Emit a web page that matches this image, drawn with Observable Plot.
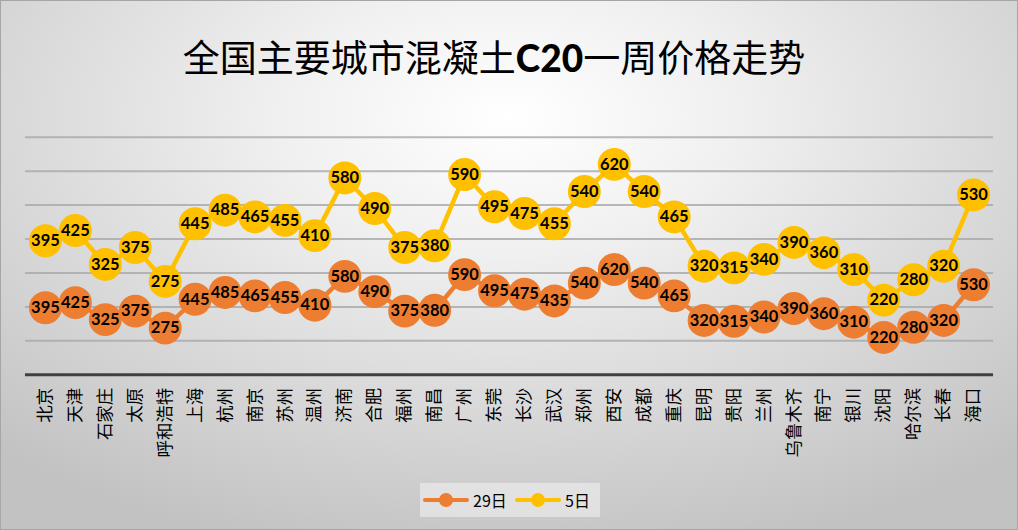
<!DOCTYPE html>
<html>
<head>
<meta charset="utf-8">
<script src="https://cdn.jsdelivr.net/npm/d3@7"></script>
<script src="https://cdn.jsdelivr.net/npm/@observablehq/plot@0.6"></script>
<style>
  html, body { margin: 0; padding: 0; }
  #wrap {
    position: relative; width: 1018px; height: 530px; box-sizing: border-box;
    border: 1px solid #a6a6a6;
    background: radial-gradient(ellipse 75% 85% at 50% 22%, #ffffff 0%, #f0f0f0 30%, #d9d9d9 65%, #c2c2c2 100%);
    overflow: hidden;
  }
  #title {
    position: absolute; left: -16px; width: 1018px; top: 30px; text-align: center;
    font-family: "Noto Sans CJK SC", sans-serif; font-size: 37px; color: #000; line-height: 50px;
  }
  #title b { font-family: Lato, "Open Sans", sans-serif; font-weight: 900; }
  #chart { position: absolute; left: 0; top: 0; }
  #legend {
    position: absolute; left: 419px; top: 482px; width: 180px; height: 34px;
    background: rgba(240,240,240,0.6);
    font-family: "Noto Sans CJK SC", sans-serif; font-size: 16px; color: #000;
  }
  .item { position: absolute; top: 0; height: 34px; display: flex; align-items: center; }
  .sw { position: relative; width: 46px; height: 14px; margin-right: 4px; }
  .sw .ln { position: absolute; left: 0; right: 0; top: 5px; height: 4px; border-radius: 2px; }
  .sw .dt { position: absolute; left: 16px; top: 0; width: 14px; height: 14px; border-radius: 50%; }
</style>
</head>
<body>
<div id="wrap">
  <div id="title">全国主要城市混凝土<b>C20</b>一周价格走势</div>
  <div id="chart"></div>
  <div id="legend"></div>
</div>
<script>
const cities = ["北京","天津","石家庄","太原","呼和浩特","上海","杭州","南京","苏州","温州","济南","合肥","福州","南昌","广州","东莞","长沙","武汉","郑州","西安","成都","重庆","昆明","贵阳","兰州","乌鲁木齐","南宁","银川","沈阳","哈尔滨","长春","海口"];
const price29 = [395,425,325,375,275,445,485,465,455,410,580,490,375,380,590,495,475,435,540,620,540,465,320,315,340,390,360,310,220,280,320,530];
const price5  = [395,425,325,375,275,445,485,465,455,410,580,490,375,380,590,495,475,455,540,620,540,465,320,315,340,390,360,310,220,280,320,530];
const seriesNames = ["29日", "5日"];
const colors = ["#ED7D31", "#FFC000"];
const gridTicks = [200,400,600,800,1000,1200,1400];

// Stacked line chart (Excel "stacked line"): second series sits on top of the first
const rows = [];
cities.forEach((c, i) => {
  rows.push({city: c, series: seriesNames[0], label: price29[i], y: price29[i]});
});
cities.forEach((c, i) => {
  rows.push({city: c, series: seriesNames[1], label: price5[i], y: price29[i] + price5[i]});
});

const chart = Plot.plot({
  width: 1018,
  height: 480,
  marginLeft: 24,
  marginRight: 24,
  marginTop: 136,
  marginBottom: 106,
  style: {background: "transparent", overflow: "visible"},
  x: {type: "point", domain: cities, padding: 0.5, label: null},
  y: {domain: [0, 1400], axis: null},
  color: {domain: seriesNames, range: colors},
  marks: [
    Plot.ruleY(gridTicks, {stroke: "#a8a8a8", strokeWidth: 2, strokeOpacity: 0.8}),
    Plot.ruleY([0], {stroke: "#404040", strokeWidth: 3}),
    Plot.axisX({tickSize: 0, tickPadding: 13, tickRotate: -90, fontSize: 17.5,
      fontFamily: "Noto Sans CJK SC", fill: "#000", label: null}),
    Plot.line(rows, {x: "city", y: "y", z: "series", stroke: "series", strokeWidth: 4.5}),
    Plot.dot(rows, {x: "city", y: "y", fill: "series", r: 16.5, stroke: null}),
    Plot.text(rows, {x: "city", y: "y", text: d => String(d.label), fill: "#000",
      fontSize: 16.5, fontWeight: "bold", fontFamily: "Lato, 'Open Sans', sans-serif"})
  ]
});
document.getElementById("chart").appendChild(chart);

const legend = document.getElementById("legend");
const lx = [3, 95];
seriesNames.forEach((s, i) => {
  const it = document.createElement("div");
  it.className = "item";
  it.style.left = lx[i] + "px";
  it.innerHTML = `<div class="sw"><div class="ln" style="background:${colors[i]}"></div><div class="dt" style="background:${colors[i]}"></div></div><span>${s}</span>`;
  legend.appendChild(it);
});
</script>
</body>
</html>
